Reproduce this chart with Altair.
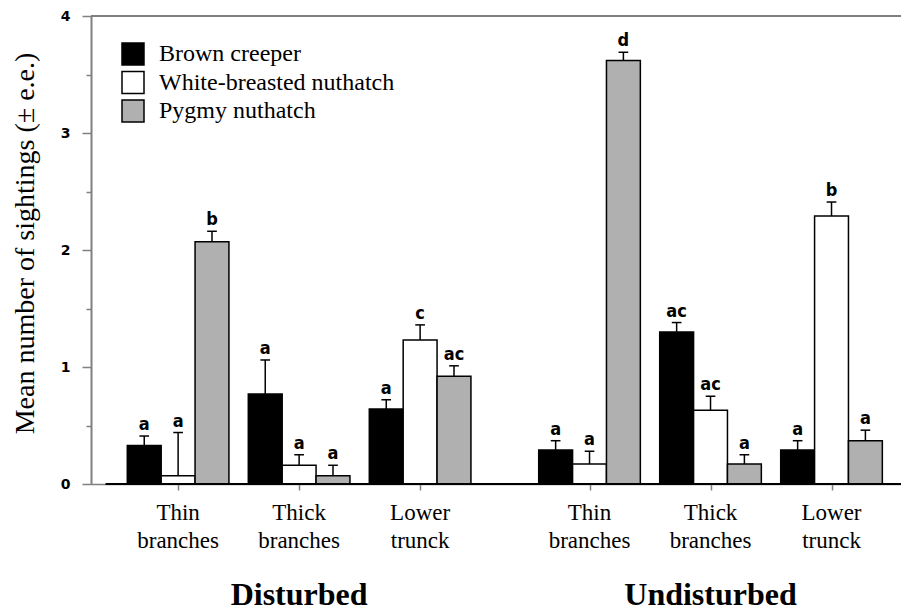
import altair as alt
import pandas as pd

# ---------------- data ----------------
conditions = ["Disturbed", "Undisturbed"]
parts = ["Thin\nbranches", "Thick\nbranches", "Lower\ntrunck"]
species = ["Brown creeper", "White-breasted nuthatch", "Pygmy nuthatch"]

# order: Disturbed thin, thick, lower, Undisturbed thin, thick, lower
brown_mean = [0.33, 0.77, 0.64, 0.29, 1.30, 0.29]
brown_se = [0.08, 0.29, 0.08, 0.08, 0.08, 0.08]
white_mean = [0.07, 0.16, 1.23, 0.17, 0.63, 2.29]
white_se = [0.37, 0.09, 0.13, 0.11, 0.12, 0.12]
pygmy_mean = [2.07, 0.07, 0.92, 3.62, 0.17, 0.37]
pygmy_se = [0.09, 0.09, 0.09, 0.07, 0.08, 0.09]
brown_letters = ["a", "a", "a", "a", "ac", "a"]
white_letters = ["a", "a", "c", "a", "ac", "b"]
pygmy_letters = ["b", "a", "ac", "d", "a", "a"]

y_ticks = [i * 0.25 for i in range(17)]

# ---------------- layout ----------------
W, H = 810, 468
UNIT = 121.0
group_pos = [1, 2, 3, 4.4, 5.4, 6.4]
offsets = [-0.28, 0.0, 0.28]
half = 0.14
cap = 0.04
x_min = 0.28
x_max = x_min + W / UNIT

colors = ["#000000", "#ffffff", "#b0b0b0"]
GRAY = "#808080"
SERIF = "Liberation Serif, Times New Roman, serif"

rows = []
series = [
    (brown_mean, brown_se, brown_letters),
    (white_mean, white_se, white_letters),
    (pygmy_mean, pygmy_se, pygmy_letters),
]
for si, (means, ses, lets) in enumerate(series):
    for gi in range(6):
        xc = group_pos[gi] + offsets[si]
        rows.append({
            "species": species[si],
            "condition": conditions[gi // 3],
            "part": parts[gi % 3],
            "mean": means[gi],
            "top": means[gi] + ses[gi],
            "letter": lets[gi],
            "xc": xc,
            "x0": xc - half,
            "x1": xc + half,
            "cl": xc - cap,
            "cr": xc + cap,
        })
df = pd.DataFrame(rows)

xscale = alt.Scale(domain=[x_min, x_max], nice=False, zero=False)
yscale = alt.Scale(domain=[0, 4], nice=False, zero=True)

bars = alt.Chart(df).mark_rect(stroke="black", strokeWidth=1.5).encode(
    x=alt.X("x0:Q", scale=xscale, axis=alt.Axis(
        values=group_pos, labels=False, title=None, grid=False,
        domainColor=GRAY, domainWidth=1.5, tickColor=GRAY, tickWidth=1.5, tickSize=6)),
    x2="x1:Q",
    y=alt.Y("mean:Q", scale=yscale, axis=alt.Axis(
        values=y_ticks, grid=False,
        labelExpr="datum.value % 1 === 0 ? format(datum.value, 'd') : ''",
        labelFont="DejaVu Sans", labelFontWeight="bold", labelFontSize=14, labelColor="black",
        labelPadding=12,
        domainColor=GRAY, domainWidth=2, tickColor=GRAY, tickWidth=1.5,
        tickSize={"condition": {"test": "datum.value % 1 === 0", "value": 9}, "value": 5},
        title="Mean number of sightings (± e.e.)",
        titleFont=SERIF, titleFontSize=28, titleFontWeight="normal",
        titleColor="black", titleX=-66, titleY=227, titleAngle=270,
        titleBaseline="middle", titleAlign="center")),
    y2=alt.datum(0),
    fill=alt.Fill("species:N", scale=alt.Scale(domain=species, range=colors), legend=alt.Legend(
        orient="none", legendX=30, legendY=26, title=None, symbolType="square",
        symbolSize=484, symbolStrokeColor="black", symbolStrokeWidth=1.5,
        symbolOpacity=1, labelFont=SERIF, labelFontSize=24, labelColor="black",
        labelLimit=0, labelOffset=14, rowPadding=0.5, padding=0)),
)

err = alt.Chart(df).mark_rule(color="black", strokeWidth=1.5).encode(
    x="xc:Q", y="mean:Q", y2="top:Q")
caps = alt.Chart(df).mark_rule(color="black", strokeWidth=1.5).encode(
    x="cl:Q", x2="cr:Q", y="top:Q")
letters = alt.Chart(df).mark_text(
    font="Liberation Sans Narrow, DejaVu Sans Condensed, Liberation Sans",
    fontWeight="bold", fontSize=18, dy=-6, baseline="alphabetic", color="black"
).encode(x="xc:Q", y="top:Q", text="letter:N")

frame_df = pd.DataFrame({"xa": [x_min], "xb": [x_max], "xbase": [group_pos[0] - 0.6],
                         "ytop": [4.0], "ybot": [0.0]})
top_line = alt.Chart(frame_df).mark_rule(color=GRAY, strokeWidth=2).encode(
    x="xa:Q", x2="xb:Q", y="ytop:Q")
base_line = alt.Chart(frame_df).mark_rule(color="black", strokeWidth=2).encode(
    x="xbase:Q", x2="xb:Q", y="ybot:Q")

cat_df = pd.DataFrame({"pos": group_pos, "label": parts * 2})
cat_text = alt.Chart(cat_df).mark_text(
    font=SERIF, fontSize=23, lineBreak="\n", lineHeight=28,
    baseline="alphabetic", align="center", color="black"
).encode(x="pos:Q", y=alt.value(H + 36), text="label:N")

grp_df = pd.DataFrame({"pos": [group_pos[1], group_pos[4]], "label": conditions})
grp_text = alt.Chart(grp_df).mark_text(
    font=SERIF, fontSize=32, fontWeight="bold",
    baseline="alphabetic", align="center", color="black"
).encode(x="pos:Q", y=alt.value(H + 121), text="label:N")

chart = alt.layer(bars, err, caps, letters, top_line, base_line, cat_text, grp_text).properties(
    width=W, height=H,
    autosize=alt.AutoSizeParams(type="none"),
    padding={"left": 83, "top": 8, "right": 0, "bottom": 131},
).configure_view(stroke=None).configure(background="white")

chart.save("out.html", embed_options={"renderer": "svg", "actions": False})
